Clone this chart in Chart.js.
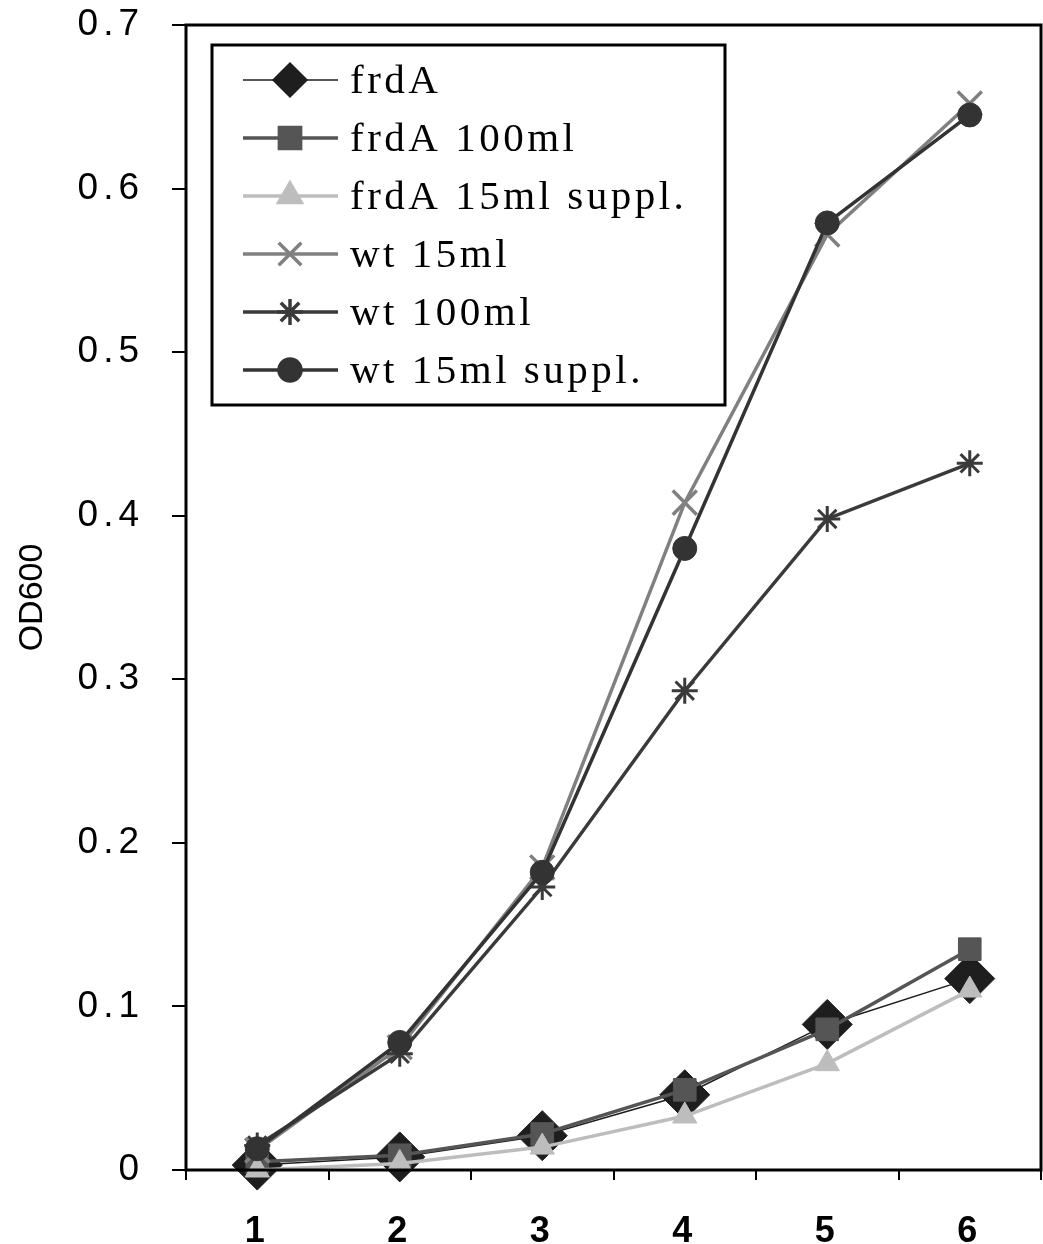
<!DOCTYPE html>
<html>
<head>
<meta charset="utf-8">
<script src="https://cdn.jsdelivr.net/npm/chart.js@4"></script>
<style>
  html, body { margin: 0; padding: 0; background: #fff; }
  #wrap { width: 1043px; height: 1244px; }
</style>
</head>
<body>
<div id="wrap"><canvas id="c" width="1043" height="1244"></canvas></div>
<script>
// data
const hours = ['1', '2', '3', '4', '5', '6'];
const yTicks = [0, 0.1, 0.2, 0.3, 0.4, 0.5, 0.6, 0.7];
const frdA = [0.003, 0.008, 0.021, 0.046, 0.089, 0.117];
const frdA100 = [0.005, 0.009, 0.022, 0.049, 0.086, 0.135];
const frdA15suppl = [0.0, 0.004, 0.014, 0.033, 0.065, 0.110];
const wt15 = [0.012, 0.075, 0.185, 0.408, 0.572, 0.652];
const wt100 = [0.015, 0.071, 0.173, 0.293, 0.398, 0.432];
const wt15suppl = [0.013, 0.078, 0.182, 0.380, 0.579, 0.645];

const series = [
  { label: 'frdA', data: frdA, color: '#1e1e1e', width: 1.5, style: 'rectRot', r: 25, lr: 17, bw: 1 },
  { label: 'frdA 100ml', data: frdA100, color: '#555555', width: 3.5, style: 'rect', r: 16, lr: 15, bw: 1 },
  { label: 'frdA 15ml suppl.', data: frdA15suppl, color: '#bdbdbd', width: 3.5, style: 'triangle', r: 14, lr: 13, bw: 1 },
  { label: 'wt 15ml', data: wt15, color: '#808080', width: 3.5, style: 'crossRot', r: 17, lr: 16, bw: 3.5 },
  { label: 'wt 100ml', data: wt100, color: '#3a3a3a', width: 3.5, style: 'star', r: 13, lr: 13, bw: 3 },
  { label: 'wt 15ml suppl.', data: wt15suppl, color: '#333333', width: 3.5, style: 'circle', r: 12, lr: 11, bw: 1 }
];

// spaced-out tick digits like the scan (tick labels are drawn after the datasets, z:1)
const spacingPlugin = {
  id: 'spacing',
  beforeDraw(chart) { chart.ctx.letterSpacing = '0px'; },
  afterDatasetsDraw(chart) { chart.ctx.letterSpacing = '5px'; }
};

// frame round the plot area + boxed legend in the upper left
const framePlugin = {
  id: 'frame',
  afterDraw(chart) {
    const ctx = chart.ctx, a = chart.chartArea;
    ctx.save();
    ctx.letterSpacing = '0px';
    ctx.strokeStyle = '#000';
    ctx.lineWidth = 3;
    ctx.strokeRect(a.left, a.top, a.right - a.left, a.bottom - a.top);

    // legend
    ctx.lineWidth = 3;
    ctx.fillStyle = '#fff';
    ctx.fillRect(212, 45, 513, 360);
    ctx.strokeRect(212, 45, 513, 360);
    ctx.font = '41px "Liberation Serif", "Times New Roman", serif';
    ctx.textBaseline = 'middle';
    ctx.textAlign = 'left';
    series.forEach((s, i) => {
      const y = 80 + i * 58;
      ctx.strokeStyle = s.color;
      ctx.lineWidth = s.width;
      ctx.letterSpacing = '0px';
      ctx.beginPath(); ctx.moveTo(243, y); ctx.lineTo(338, y); ctx.stroke();
      ctx.fillStyle = s.color;
      Chart.helpers.drawPoint(ctx, { pointStyle: s.style, radius: s.lr, borderWidth: s.bw, rotation: 0 }, 290, y);
      ctx.fillStyle = '#000';
      ctx.letterSpacing = '3.5px';
      ctx.fillText(s.label, 350, y + 2);
    });
    ctx.restore();
  }
};

new Chart(document.getElementById('c'), {
  type: 'line',
  data: {
    labels: hours,
    datasets: series.map((s, i) => ({
      label: s.label,
      data: s.data,
      borderColor: s.color,
      backgroundColor: s.color,
      borderWidth: s.width,
      pointStyle: s.style,
      pointRadius: s.r,
      pointBorderWidth: s.bw,
      pointBorderColor: s.color,
      pointBackgroundColor: s.color,
      tension: 0,
      fill: false,
      clip: false,
      order: 6 - i
    }))
  },
  options: {
    responsive: false,
    animation: false,
    layout: { autoPadding: false, padding: { top: 25, right: 2, left: 0, bottom: 0 } },
    plugins: { legend: { display: false }, tooltip: { enabled: false } },
    scales: {
      x: {
        offset: true,
        grid: { display: true, drawOnChartArea: false, drawTicks: true, tickLength: 10, color: '#000', lineWidth: 2, offset: true },
        border: { display: false },
        ticks: { z: 1, color: '#000', padding: 30, font: { family: 'Liberation Sans, Arial', size: 36, weight: 'bold' } },
        afterFit(s) { s.height = 74; s.paddingLeft = 0; s.paddingRight = 0; }
      },
      y: {
        min: 0,
        max: 0.7,
        afterBuildTicks(s) { s.ticks = yTicks.map(v => ({ value: v })); },
        grid: { display: true, drawOnChartArea: false, drawTicks: true, tickLength: 14, color: '#000', lineWidth: 2 },
        border: { display: false },
        ticks: {
          z: 1, color: '#000', padding: 28,
          font: { family: 'Liberation Sans, Arial', size: 37 },
          callback: v => v === 0 ? '0' : v.toFixed(1)
        },
        title: { display: true, text: 'OD600', color: '#000', padding: { top: 12, bottom: 0 }, font: { family: 'Liberation Sans, Arial', size: 34 } },
        afterFit(s) { s.width = 186; s.paddingTop = 0; s.paddingBottom = 0; }
      }
    }
  },
  plugins: [spacingPlugin, framePlugin]
});
</script>
</body>
</html>
